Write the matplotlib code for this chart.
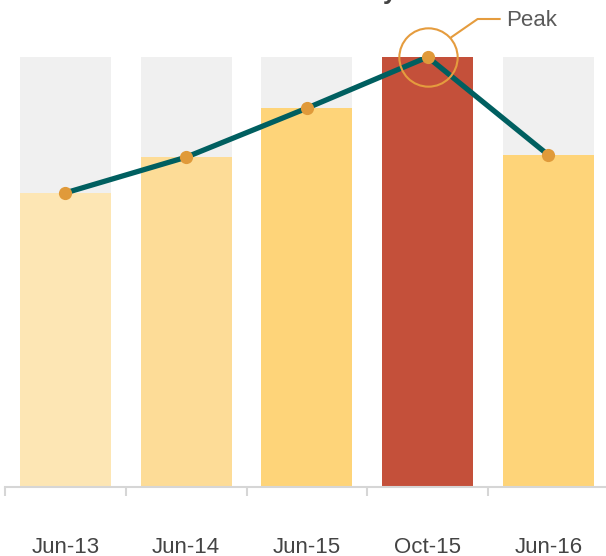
import matplotlib
matplotlib.use("Agg")
import matplotlib.pyplot as plt
from matplotlib.transforms import IdentityTransform

categories = ["Jun-13", "Jun-14", "Jun-15", "Oct-15", "Jun-16"]
values = [68.4, 76.7, 88.1, 100.0, 77.2]
bg_max = [100.0, 100.0, 100.0, 100.0, 100.0]
bar_colors = ["#FDE6B4", "#FDDC97", "#FED479", "#C4503A", "#FED479"]
peak_label = "Peak"
title_text = "Activity"

W, H, DPI = 606, 556, 100
fig = plt.figure(figsize=(W / DPI, H / DPI), dpi=DPI)
plt.rcParams['font.family'] = ['Liberation Sans', 'DejaVu Sans']

ax = fig.add_axes([5 / W, (H - 487) / H, 603.75 / W, 430 / H])
x = list(range(len(categories)))
ax.bar(x, bg_max, width=0.754, color="#F0F0F0", zorder=1)
ax.bar(x, values, width=0.754, color=bar_colors, zorder=2)
ax.plot(x, values, color="#005F60", lw=3.8, zorder=3, solid_capstyle='round')
ax.plot(x, values, 'o', color="#E09A3A", ms=9.5, zorder=4, mec='none', clip_on=False)

ax.set_xlim(-0.5, 4.5)
ax.set_ylim(0, 100)
ax.set_yticks([])
for s in ["top", "left", "right"]:
    ax.spines[s].set_visible(False)
ax.spines["bottom"].set_color("#D6D6D6")
ax.spines["bottom"].set_linewidth(1.5)
ax.set_xticks(x)
ax.set_xticklabels(categories, fontsize=16, color="#444444")
ax.tick_params(axis='x', which='major', length=0, pad=36)
ax.set_xticks([i - 0.5 for i in range(len(categories) + 1)], minor=True)
ax.tick_params(axis='x', which='minor', length=6.5, width=1.5, color="#D6D6D6", direction='out')

# Peak highlight
pi = values.index(max(values))
ax.plot([pi], [values[pi]], 'o', ms=42, mfc='none', mec="#E59C3E", mew=1.5, zorder=5, clip_on=False)
fig.canvas.draw()
px, py = ax.transData.transform((pi, values[pi]))
ax.plot([px + 24, px + 50, px + 72], [py + 20, py + 38, py + 38], color="#E59C3E", lw=1.5,
        transform=IdentityTransform(), clip_on=False, zorder=5)
ax.text(px + 79, py + 36, peak_label, transform=IdentityTransform(), fontsize=16, color="#5A5A5A",
        ha='left', va='center')

fig.text(397 / W, (H + 1) / H, title_text, fontsize=18, fontweight='bold', color="#444444",
         ha='right', va='baseline')

fig.savefig("out.png", dpi=DPI)
